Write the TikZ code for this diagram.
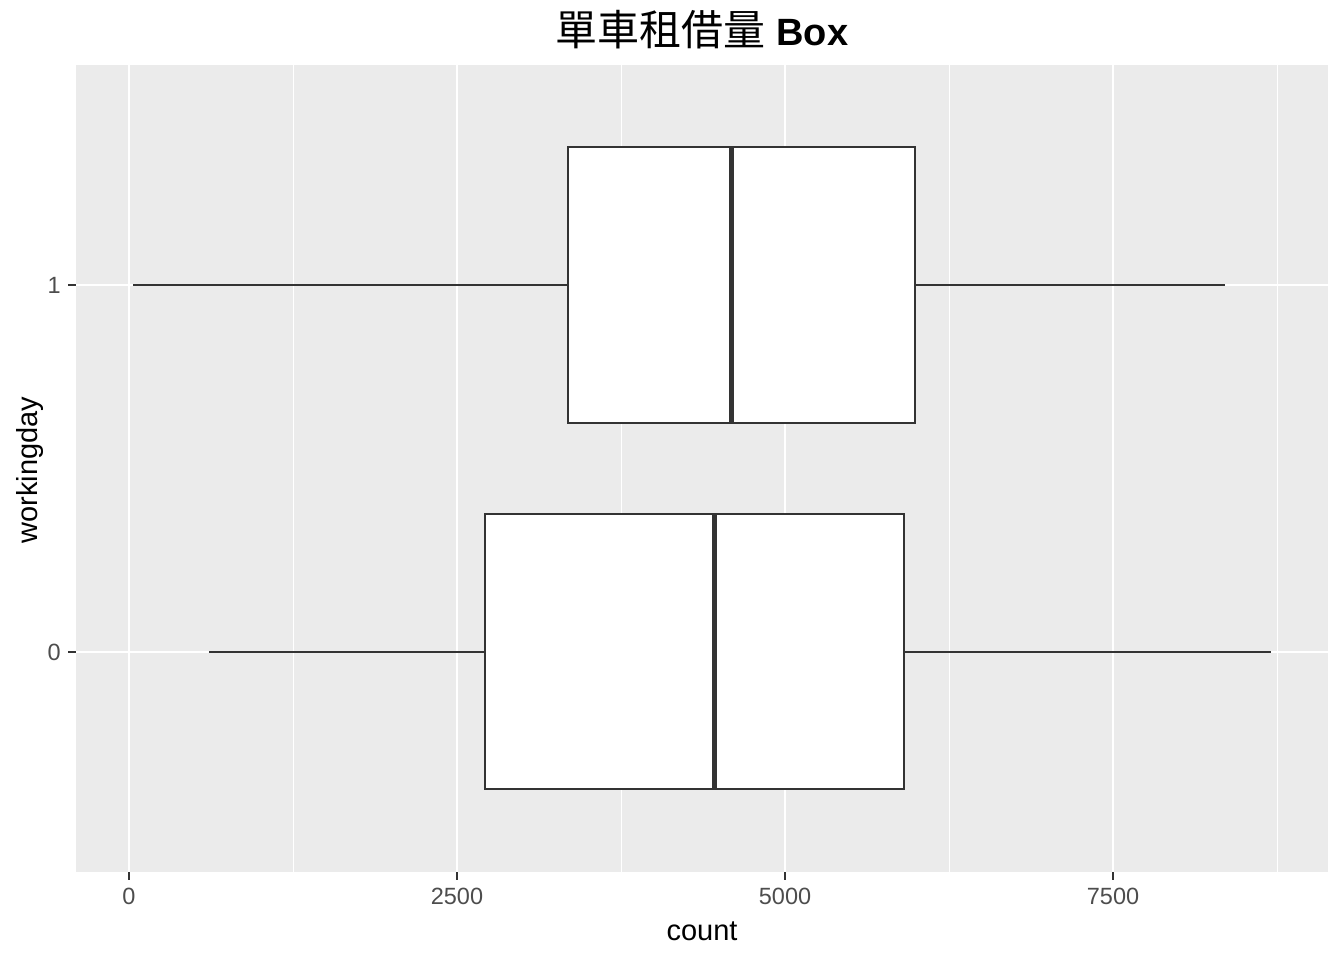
\documentclass[tikz,border=0pt]{standalone}
\usepackage{fontspec}
\setmainfont{Liberation Sans}
\newfontfamily\cjkfont{Noto Sans CJK TC}
\usepackage{tikz}
\definecolor{panelgrey}{HTML}{EBEBEB}
\definecolor{boxline}{HTML}{333333}
\definecolor{ticktext}{HTML}{4D4D4D}
\tikzset{
  tickmark/.style={boxline, line width=2pt},
  ticklabel/.style={text=ticktext, inner sep=0pt, font=\fontsize{23.5}{28}\selectfont},
  axistitle/.style={inner sep=0pt, font=\fontsize{29}{34}\selectfont},
  boxbody/.style={draw=boxline, fill=white, line width=2pt},
  whisker/.style={boxline, line width=2pt},
  median/.style={boxline, line width=5pt}
}

\begin{document}
\begin{tikzpicture}[x=1pt,y=-1pt]
  \useasboundingbox (0,0) rectangle (1344,960);

  % Panel background
  \fill[panelgrey] (76,65) rectangle (1328,872);

  % Grid lines
  \foreach \gx in {293,621,949,1277}
    \draw[white, line width=1pt] (\gx,65) -- (\gx,872);
  \foreach \gx in {129,457,785,1113}
    \draw[white, line width=2pt] (\gx,65) -- (\gx,872);
  \foreach \gy in {285,652}
    \draw[white, line width=2pt] (76,\gy) -- (1328,\gy);

  % workingday = 1
  \draw[whisker] (133,285) -- (568,285);
  \draw[whisker] (915,285) -- (1225,285);
  \draw[boxbody] (568,147) rectangle (915,423);
  \draw[median] (731,147) -- (731,423);

  % workingday = 0
  \draw[whisker] (209,652) -- (485,652);
  \draw[whisker] (904,652) -- (1271,652);
  \draw[boxbody] (485,514) rectangle (904,789);
  \draw[median] (714,514) -- (714,789);

  % x axis ticks and labels
  \foreach \gx/\lab in {129/0,457/2500,785/5000,1113/7500} {
    \draw[tickmark] (\gx,872) -- (\gx,880);
    \node[ticklabel] (xtick\lab) at (\gx,896) {\lab};
  }

  % y axis ticks and labels
  \foreach \gy/\lab in {285/1,652/0} {
    \draw[tickmark] (68,\gy) -- (76,\gy);
    \node[ticklabel, anchor=east] (ytick\lab) at (61,\gy) {\lab};
  }

  % Axis titles
  \node[axistitle, anchor=base] (xtitle) at (702,940) {count};
  \node[axistitle, rotate=90] (ytitle) at (30,470) {workingday};

  % Title
  \node[inner sep=0pt, anchor=base, font=\fontsize{38}{44}\selectfont] (title) at (702,46)
    {{\cjkfont\fontsize{42}{48}\selectfont 單車租借量} \textbf{Box}};
\end{tikzpicture}
\end{document}
